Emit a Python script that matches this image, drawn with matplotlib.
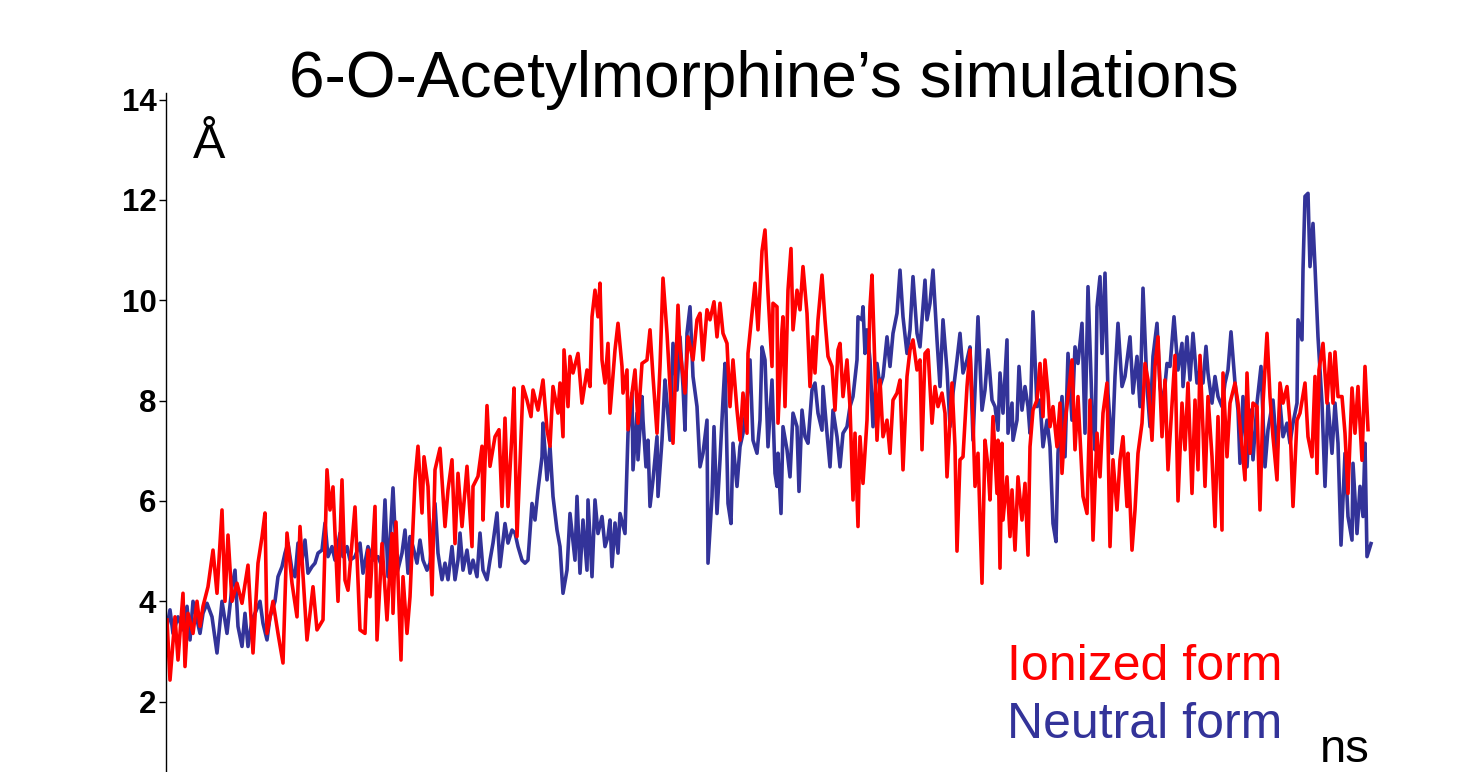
import matplotlib
matplotlib.use('Agg')
import matplotlib.pyplot as plt

# Distance (Angstrom) vs simulation frame
ionizedPoints = [
    (1, 3.63), (4, 2.43), (9, 3.69), (12, 2.83), (17, 4.16), (19, 2.70), (22, 3.76), (27, 3.36),
    (31, 4.0), (34, 3.5), (37, 3.9), (42, 4.29), (47, 5.02), (51, 4.16), (56, 5.82), (59, 4.0),
    (62, 5.32), (66, 4.0), (71, 4.36), (76, 3.96), (82, 4.72), (87, 2.97), (92, 4.76), (96, 5.28),
    (99, 5.76), (101, 3.36), (107, 4.0), (112, 3.36), (117, 2.77), (121, 5.36), (126, 4.36), (131, 3.69),
    (134, 5.49), (141, 3.23), (147, 4.29), (151, 3.43), (157, 3.63), (161, 6.62), (164, 5.82), (167, 6.28),
    (172, 4.0), (176, 6.42), (179, 4.42), (182, 4.22), (189, 5.88), (194, 3.43), (199, 3.36), (202, 5.02),
    (204, 4.09), (209, 5.89), (211, 3.23), (216, 5.15), (221, 3.63), (226, 5.35), (227, 3.76), (230, 5.58),
    (235, 2.83), (237, 4.49), (241, 3.36), (244, 4.09), (249, 6.42), (252, 7.09), (256, 5.76), (258, 6.88),
    (262, 6.29), (266, 4.13), (269, 6.62), (274, 7.05), (279, 5.49), (282, 6.22), (286, 6.82), (289, 5.15),
    (292, 6.55), (296, 5.49), (301, 6.69), (306, 5.09), (307, 6.29), (312, 6.49), (316, 7.09), (317, 5.62),
    (321, 7.9), (324, 6.69), (329, 7.28), (333, 7.42), (336, 5.89), (339, 7.65), (342, 5.89), (346, 7.36),
    (348, 8.25), (351, 5.29), (354, 6.75), (357, 8.28), (361, 8.01), (365, 7.68), (367, 8.21), (372, 7.81),
    (377, 8.41), (381, 7.42), (384, 7.09), (387, 8.28), (392, 7.75), (394, 8.35), (397, 7.28), (398, 9.01),
    (402, 7.88), (404, 8.88), (407, 8.55), (412, 8.94), (416, 7.95), (421, 8.61), (424, 8.28), (426, 9.67),
    (429, 10.2), (432, 9.67), (434, 10.34), (436, 8.81), (439, 8.35), (442, 9.14), (444, 7.75), (449, 9.01),
    (452, 9.54), (456, 8.68), (457, 8.15), (461, 8.61), (462, 7.42), (466, 8.15), (469, 8.61), (472, 7.55),
    (476, 8.74), (481, 8.81), (484, 9.41), (487, 8.48), (491, 7.35), (494, 8.68), (497, 10.44), (501, 9.34),
    (504, 8.28), (507, 7.15), (512, 9.9), (514, 9.01), (519, 8.15), (522, 9.27), (527, 8.81), (531, 9.61),
    (534, 9.74), (537, 8.81), (541, 9.81), (544, 9.61), (548, 9.97), (551, 9.27), (554, 9.94), (557, 9.34),
    (561, 9.14), (564, 7.88), (567, 8.81), (571, 7.81), (574, 7.21), (577, 8.15), (581, 7.35), (582, 8.94),
    (586, 9.74), (589, 10.34), (592, 9.41), (596, 10.98), (599, 11.4), (602, 10.14), (606, 8.68), (607, 9.94),
    (611, 9.87), (612, 7.55), (616, 9.41), (617, 9.67), (619, 7.88), (622, 10.2), (625, 11.03), (627, 9.41),
    (631, 10.2), (634, 9.81), (637, 10.67), (641, 9.74), (644, 8.28), (647, 9.27), (649, 8.55), (652, 9.61),
    (656, 10.5), (659, 9.61), (662, 8.88), (666, 8.68), (669, 7.81), (672, 9.01), (674, 9.14), (677, 8.08),
    (681, 8.81), (684, 7.88), (687, 6.02), (689, 7.35), (692, 5.49), (694, 7.28), (697, 6.35), (701, 7.61),
    (704, 9.87), (706, 10.5), (709, 8.61), (711, 7.21), (714, 8.41), (717, 7.28), (721, 7.61), (724, 6.95),
    (727, 8.01), (731, 8.15), (734, 8.41), (737, 6.62), (741, 8.48), (744, 9.01), (747, 9.21), (751, 8.61),
    (754, 8.81), (756, 7.02), (759, 8.94), (762, 9.01), (766, 7.55), (769, 8.28), (772, 7.88), (776, 8.15),
    (779, 7.75), (781, 6.48), (786, 8.35), (789, 7.08), (791, 5.0), (794, 6.82), (797, 6.88), (801, 8.28),
    (804, 9.01), (807, 7.61), (809, 6.29), (812, 6.95), (816, 4.36), (819, 7.21), (822, 6.68), (824, 6.02),
    (827, 7.68), (831, 6.15), (832, 7.21), (834, 4.66), (836, 7.15), (837, 5.62), (841, 6.48), (844, 5.29),
    (846, 6.22), (849, 5.02), (852, 6.48), (856, 5.62), (859, 6.35), (862, 4.92), (864, 7.08), (867, 7.81),
    (871, 8.01), (874, 8.74), (877, 7.68), (879, 8.81), (882, 8.15), (884, 7.48), (887, 7.88), (891, 7.08),
    (894, 7.95), (896, 6.55), (899, 7.55), (902, 8.08), (906, 8.81), (909, 7.02), (912, 8.08), (917, 6.09),
    (921, 5.75), (924, 8.01), (927, 5.22), (931, 7.35), (934, 6.48), (937, 7.75), (941, 8.35), (944, 5.09),
    (947, 6.82), (951, 5.82), (954, 6.82), (957, 7.28), (961, 5.89), (962, 6.95), (966, 5.02), (969, 5.82),
    (972, 6.95), (976, 7.55), (979, 8.74), (982, 8.41), (986, 7.21), (989, 8.68), (992, 9.27), (996, 7.28),
    (999, 8.41), (1002, 6.62), (1009, 8.9), (1012, 6.0), (1016, 7.95), (1019, 7.02), (1022, 8.35), (1026, 6.15),
    (1029, 8.01), (1032, 6.62), (1034, 8.9), (1037, 7.42), (1039, 6.29), (1042, 8.08), (1046, 6.88), (1049, 5.49),
    (1052, 7.68), (1056, 5.42), (1057, 8.55), (1061, 6.88), (1064, 7.95), (1069, 8.35), (1072, 7.95), (1076, 7.08),
    (1079, 6.42), (1081, 8.55), (1084, 6.95), (1087, 7.95), (1091, 7.88), (1094, 5.82), (1097, 7.95), (1101, 9.34),
    (1104, 8.08), (1107, 7.28), (1111, 6.42), (1114, 8.35), (1117, 7.95), (1121, 8.28), (1124, 7.55), (1127, 5.89),
    (1131, 7.61), (1134, 7.75), (1139, 8.35), (1142, 7.28), (1146, 6.88), (1149, 8.48), (1151, 6.55), (1153, 8.61),
    (1157, 9.14), (1161, 7.95), (1164, 8.94), (1167, 7.95), (1169, 8.97), (1172, 8.08), (1176, 8.08), (1179, 7.35),
    (1182, 6.15), (1186, 8.25), (1189, 7.35), (1192, 8.28), (1196, 6.81), (1199, 8.68), (1202, 7.42),
]

neutralPoints = [
    (1, 3.5), (4, 3.83), (7, 3.36), (12, 3.69), (17, 3.43), (21, 3.9), (24, 3.23), (27, 4.0),
    (31, 3.63), (34, 3.36), (37, 3.76), (41, 3.96), (46, 3.69), (51, 2.97), (56, 4.0), (61, 3.36),
    (66, 4.29), (69, 4.62), (72, 3.5), (76, 3.1), (79, 3.76), (82, 3.1), (86, 3.63), (89, 3.76),
    (94, 4.0), (97, 3.56), (101, 3.23), (104, 3.69), (109, 4.0), (112, 4.49), (116, 4.69), (119, 4.96),
    (122, 5.16), (126, 4.62), (129, 4.49), (132, 5.16), (136, 4.82), (139, 5.22), (142, 4.56), (146, 4.69),
    (149, 4.76), (152, 4.96), (156, 5.02), (159, 5.56), (162, 4.89), (166, 5.09), (169, 4.82), (174, 5.36),
    (177, 4.89), (181, 5.09), (184, 4.82), (189, 4.89), (194, 5.16), (197, 4.56), (202, 5.09), (207, 4.82),
    (212, 4.89), (216, 4.69), (219, 6.02), (222, 4.49), (227, 6.26), (231, 4.56), (236, 4.96), (239, 5.42),
    (242, 4.56), (244, 5.29), (247, 5.09), (251, 4.76), (254, 5.22), (257, 4.82), (261, 4.62), (264, 4.76),
    (269, 5.95), (272, 4.96), (276, 4.43), (279, 4.76), (282, 4.43), (286, 5.09), (289, 4.43), (292, 4.82),
    (294, 5.36), (297, 4.62), (301, 5.02), (304, 4.56), (307, 4.82), (311, 4.49), (314, 5.36), (317, 4.62),
    (321, 4.43), (324, 4.82), (327, 5.16), (331, 5.76), (334, 4.69), (339, 5.55), (342, 5.16), (346, 5.42),
    (349, 5.36), (352, 5.09), (356, 4.82), (359, 4.76), (362, 4.82), (366, 5.95), (369, 5.62), (372, 6.22),
    (376, 6.88), (377, 7.55), (381, 6.42), (384, 7.09), (387, 6.09), (391, 5.42), (394, 5.09), (397, 4.16),
    (401, 4.62), (404, 5.75), (409, 4.82), (411, 6.09), (414, 4.56), (417, 5.62), (421, 4.62), (422, 6.02),
    (426, 4.49), (429, 6.02), (432, 5.35), (436, 5.69), (439, 5.09), (442, 5.29), (444, 5.62), (446, 4.69),
    (449, 5.56), (452, 4.96), (454, 5.75), (459, 5.35), (462, 7.35), (466, 8.15), (467, 6.62), (471, 7.75),
    (472, 6.82), (476, 8.08), (477, 7.61), (480, 6.68), (482, 7.21), (484, 5.89), (487, 6.42), (491, 7.28),
    (492, 6.09), (496, 7.21), (499, 8.41), (501, 7.95), (504, 7.21), (507, 9.14), (511, 8.21), (514, 9.27),
    (517, 8.28), (519, 7.41), (521, 9.34), (524, 9.87), (527, 8.48), (531, 7.88), (534, 6.68), (537, 6.95),
    (541, 7.61), (542, 4.76), (546, 6.09), (548, 7.48), (551, 5.75), (554, 6.82), (557, 8.01), (559, 8.74),
    (562, 5.95), (565, 5.55), (567, 7.15), (571, 6.29), (574, 7.08), (577, 7.35), (581, 8.01), (584, 8.81),
    (587, 7.21), (591, 6.95), (594, 7.61), (596, 9.07), (599, 8.81), (602, 7.08), (606, 8.41), (609, 6.55),
    (611, 6.29), (612, 6.95), (615, 5.75), (617, 7.48), (621, 7.02), (624, 6.48), (627, 7.75), (631, 7.48),
    (633, 6.19), (636, 7.81), (639, 7.28), (642, 7.15), (646, 8.21), (649, 8.35), (652, 7.75), (656, 7.41),
    (657, 8.28), (661, 7.35), (664, 6.68), (667, 7.81), (671, 7.28), (674, 6.68), (677, 7.35), (681, 7.48),
    (684, 7.88), (687, 8.08), (691, 8.81), (692, 9.67), (696, 9.61), (697, 9.87), (699, 8.94), (701, 9.41),
    (704, 8.81), (707, 7.48), (711, 8.74), (714, 8.28), (717, 8.48), (721, 9.27), (724, 8.68), (727, 9.34),
    (731, 9.74), (734, 10.6), (737, 9.67), (741, 8.94), (744, 9.41), (747, 10.47), (751, 9.34), (754, 9.07),
    (759, 10.4), (761, 9.61), (764, 9.94), (767, 10.6), (771, 9.21), (774, 8.28), (777, 9.61), (781, 8.61),
    (784, 7.48), (787, 8.15), (791, 8.81), (794, 9.34), (797, 8.55), (801, 8.81), (804, 9.07), (807, 7.21),
    (812, 9.67), (816, 7.81), (819, 8.21), (822, 9.01), (826, 8.01), (829, 7.88), (832, 7.41), (834, 8.55),
    (837, 7.75), (841, 9.21), (842, 7.35), (846, 7.95), (847, 7.21), (851, 7.61), (853, 8.68), (856, 7.81),
    (859, 8.28), (862, 7.88), (864, 7.35), (867, 9.77), (871, 7.88), (874, 8.01), (877, 7.08), (881, 7.61),
    (884, 7.08), (887, 5.55), (890, 5.19), (892, 6.95), (896, 8.08), (899, 6.88), (902, 8.94), (906, 7.61),
    (909, 9.07), (912, 8.74), (916, 9.54), (919, 7.35), (922, 10.27), (926, 7.88), (929, 7.02), (931, 9.87),
    (934, 10.47), (936, 8.94), (939, 10.54), (942, 8.15), (946, 6.95), (949, 8.48), (952, 9.54), (956, 8.28),
    (959, 8.48), (964, 9.27), (967, 8.15), (971, 8.88), (974, 7.88), (977, 10.24), (981, 8.28), (984, 7.48),
    (987, 8.88), (991, 9.54), (994, 8.28), (997, 7.88), (1001, 8.74), (1004, 8.68), (1008, 9.67), (1012, 8.61),
    (1016, 9.14), (1017, 8.28), (1021, 9.27), (1024, 8.41), (1027, 9.34), (1031, 8.35), (1034, 8.61), (1037, 8.35),
    (1040, 9.08), (1042, 8.55), (1046, 7.95), (1049, 8.48), (1052, 8.08), (1056, 7.88), (1059, 8.35), (1062, 8.61),
    (1065, 9.37), (1069, 8.35), (1072, 7.81), (1074, 6.75), (1077, 8.08), (1081, 6.68), (1084, 7.81), (1087, 6.82),
    (1091, 7.95), (1095, 8.68), (1099, 6.68), (1102, 7.42), (1107, 8.01), (1111, 6.95), (1114, 7.95), (1117, 7.28),
    (1121, 7.55), (1124, 7.15), (1127, 7.55), (1131, 7.95), (1132, 9.61), (1136, 9.21), (1137, 10.6), (1139, 12.07),
    (1142, 12.13), (1144, 10.67), (1147, 11.53), (1149, 10.67), (1152, 9.27), (1156, 7.95), (1159, 6.29), (1162, 7.95),
    (1166, 6.95), (1169, 7.95), (1172, 7.15), (1175, 5.12), (1179, 6.95), (1182, 5.69), (1186, 5.22), (1187, 6.75),
    (1191, 5.35), (1194, 6.29), (1197, 5.69), (1199, 7.15), (1201, 4.89), (1205, 5.15),
]

yTicks = [2, 4, 6, 8, 10, 12, 14]
titleText = '6-O-Acetylmorphine\u2019s simulations'
ionizedLabel = 'Ionized form'
neutralLabel = 'Neutral form'

ionizedColor = '#ff0000'
neutralColor = '#333399'

plt.rcParams['font.family'] = ['Liberation Sans', 'DejaVu Sans']

W, H = 1459, 772
fig = plt.figure(figsize=(W / 100, H / 100), dpi=100)
ax = fig.add_axes([166 / W, 0, 1210 / W, (H - 93) / H])

# Neutral first so the ionized trace sits on top
nT, nY = zip(*neutralPoints)
iT, iY = zip(*ionizedPoints)
ax.plot(nT, nY, color=neutralColor, linewidth=2.6, solid_joinstyle='round')
ax.plot(iT, iY, color=ionizedColor, linewidth=2.6, solid_joinstyle='round')

ax.set_xlim(0, 1210)
ax.set_ylim(0.598, 14.13)
ax.set_yticks(yTicks)
ax.set_yticklabels([str(t) for t in yTicks], fontsize=22.5, fontweight='bold')
ax.tick_params(axis='y', direction='out', length=5, width=1, pad=2)
ax.set_xticks([])
for side in ['top', 'right', 'bottom']:
    ax.spines[side].set_visible(False)
ax.spines['left'].set_linewidth(1)
ax.patch.set_alpha(0)

# Slide texts
fig.text(764 / W, 1 - 97 / H, titleText, fontsize=46, ha='center', va='baseline')
fig.text(193 / W, 1 - 158 / H, '\u00c5', fontsize=35, ha='left', va='baseline')
fig.text(1007 / W, 1 - 680 / H, ionizedLabel, fontsize=36, color=ionizedColor, ha='left', va='baseline')
fig.text(1007 / W, 1 - 738 / H, neutralLabel, fontsize=36, color=neutralColor, ha='left', va='baseline')
fig.text(1320 / W, 1 - 762 / H, 'ns', fontsize=34, ha='left', va='baseline')

fig.savefig('out.png', dpi=100)
